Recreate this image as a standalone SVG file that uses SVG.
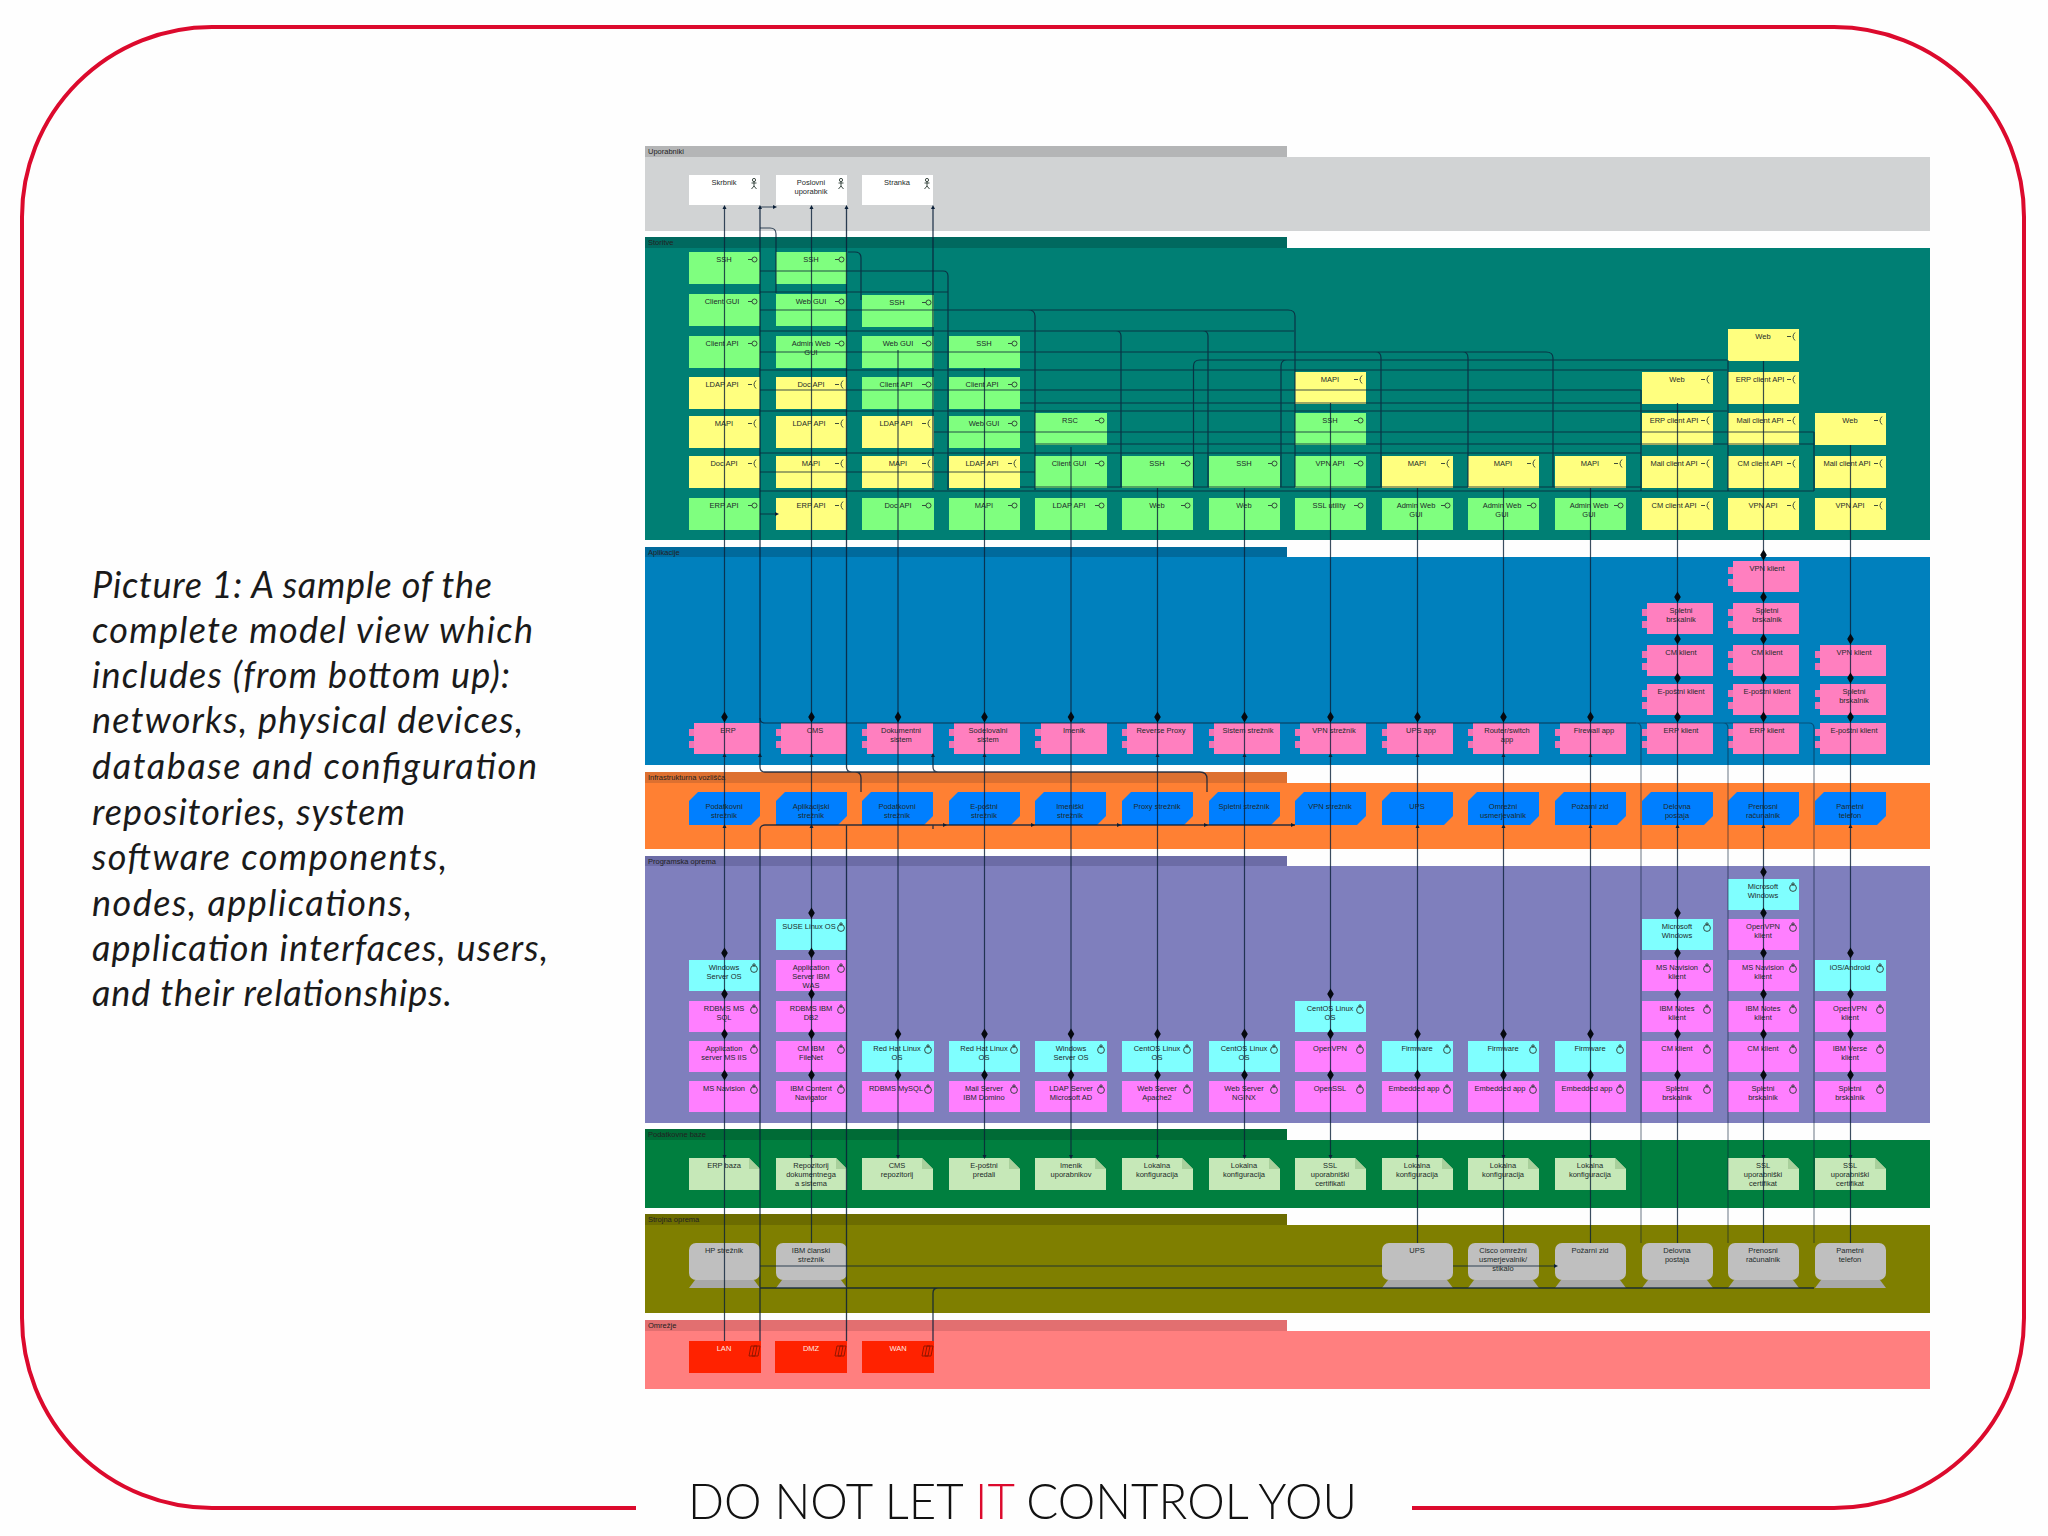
<svg xmlns="http://www.w3.org/2000/svg" width="2048" height="1536" viewBox="0 0 2048 1536">
<style>
text{font-family:"Liberation Sans",Arial,sans-serif}
.t{font-size:7.5px;fill:#1d2a2a;text-anchor:middle}
.h{font-size:7.5px;fill:#222}
.w{font-size:7.5px;fill:#ffe9e0;text-anchor:middle}
.g{fill:#7fff7f}.y{fill:#ffff7f}.p{fill:#ff7fbf}.m{fill:#ff7fff}.c{fill:#7fffff}
.cap{font-family:Lato,"Open Sans",sans-serif;font-size:36px;font-style:italic;font-weight:400;fill:#1a1a1a}
.ln{fill:none;stroke:#0b2038;stroke-width:1.2;stroke-opacity:.8}
.ln2{fill:none;stroke:#0b2038;stroke-width:1.3;stroke-opacity:.85}
.ln3{fill:none;stroke:#0b2038;stroke-width:1.2;stroke-opacity:.5}
.ic{fill:none;stroke:#2b3a33;stroke-width:.9}
</style>
<defs>
<g id="lol" class="ic"><path d="M-12 7.5H-8"/><circle cx="-5.5" cy="7.5" r="2.5"/></g>
<g id="req" class="ic"><path d="M-12 7.5H-8M-4 3.5Q-8 7.5-4 11.5"/></g>
<g id="sw" class="ic"><circle cx="-6" cy="9" r="3.4"/><circle cx="-6" cy="5" r="1.2"/></g>
<g id="act" class="ic"><circle cx="-6" cy="5" r="1.6"/><path d="M-6 6.6V11M-8.5 8H-3.500M-8.500 14L-6 11L-3.500 14"/></g>
<g id="tabs" fill="#ee74b4"><rect x="0" y="6" width="11" height="7"/><rect x="0" y="18" width="11" height="7"/></g>
<polygon id="cube" fill="#007fff" points="9,0 71,0 71,24 62,33 0,33 0,9"/>
<g id="art"><polygon fill="#c6e8b8" points="0,0 60,0 71,11 71,32 0,32"/><polygon fill="#a9d09c" points="60,0 60,11 71,11"/></g>
<g id="dev"><rect width="71" height="37" rx="7" fill="#bfbfbf"/><polygon fill="#a8a8a8" points="6,37 65,37 71,45 0,45"/></g>
<g id="neticon" fill="none" stroke="#8a1500" stroke-width=".9"><path d="M-10 5H-4L-6 15H-12ZM-7 5H-1L-3 15H-9Z"/></g>
<polygon id="dia" fill="#05090f" points="0,-5.500 3.300,0 0,5.500 -3.300,0"/>
<polygon id="ua" fill="#0b2038" points="0,-3 2,1 -2,1"/>
<polygon id="da" fill="#0b2038" points="0,2 2,-2 -2,-2"/>
<polygon id="ra" fill="#0b2038" points="3,0 -1,-2 -1,2"/>
</defs>
<rect width="2048" height="1536" fill="#fefefe"/>
<path id="frame" d="M636 1508H212A190 190 0 0 1 22 1318V217A190 190 0 0 1 212 27H1834A190 190 0 0 1 2024 217V1318A190 190 0 0 1 1834 1508H1412" fill="none" stroke="#dc0a2d" stroke-width="4"/>
<text id="slogan" x="688" y="1519" font-size="49" font-weight="300" textLength="669" lengthAdjust="spacingAndGlyphs" style="font-family:Lato,'Open Sans',sans-serif" fill="#111">DO NOT LET <tspan fill="#dc0a2d">IT</tspan> CONTROL YOU</text>
<g id="caption">
<text class="cap" x="92" y="598" textLength="400">Picture 1: A sample of the</text>
<text class="cap" x="92" y="643" textLength="441">complete model view which</text>
<text class="cap" x="92" y="688" textLength="418">includes (from bottom up):</text>
<text class="cap" x="92" y="733" textLength="431">networks, physical devices,</text>
<text class="cap" x="92" y="779" textLength="445">database and configuration</text>
<text class="cap" x="92" y="825" textLength="313">repositories, system</text>
<text class="cap" x="92" y="870" textLength="355">software components,</text>
<text class="cap" x="92" y="916" textLength="320">nodes, applications,</text>
<text class="cap" x="92" y="961" textLength="456">application interfaces, users,</text>
<text class="cap" x="92" y="1006" textLength="360">and their relationships.</text>
</g>
<g id="layers">
<g id="layer-users"><rect x="645" y="157" width="1285" height="74" fill="#d1d3d4"/><rect x="645" y="146" width="642" height="11" fill="#b4b5b6"/><text class="h" x="648" y="154">Uporabniki</text></g>
<g id="layer-services"><rect x="645" y="248" width="1285" height="292" fill="#007f74"/><rect x="645" y="237" width="642" height="11" fill="#00695f"/><text class="h" x="648" y="245">Storitve</text></g>
<g id="layer-apps"><rect x="645" y="557" width="1285" height="208" fill="#0080bd"/><rect x="645" y="547" width="642" height="10" fill="#006a9c"/><text class="h" x="648" y="555">Aplikacije</text></g>
<g id="layer-nodes"><rect x="645" y="783" width="1285" height="66" fill="#ff8033"/><rect x="645" y="772" width="642" height="11" fill="#dd7030"/><text class="h" x="648" y="780">Infrastrukturna vozlišča</text></g>
<g id="layer-software"><rect x="645" y="866" width="1285" height="257" fill="#7f7fbd"/><rect x="645" y="856" width="642" height="10" fill="#6c6ca6"/><text class="h" x="648" y="864">Programska oprema</text></g>
<g id="layer-data"><rect x="645" y="1140" width="1285" height="68" fill="#007f3f"/><rect x="645" y="1129" width="642" height="11" fill="#006b36"/><text class="h" x="648" y="1137">Podatkovne baze</text></g>
<g id="layer-hardware"><rect x="645" y="1225" width="1285" height="88" fill="#7f7f00"/><rect x="645" y="1214" width="642" height="11" fill="#6c6c00"/><text class="h" x="648" y="1222">Strojna oprema</text></g>
<g id="layer-network"><rect x="645" y="1331" width="1285" height="58" fill="#ff7f7f"/><rect x="645" y="1320" width="642" height="11" fill="#e26f70"/><text class="h" x="648" y="1328">Omrežje</text></g>
</g>
<g id="actors">
<g id="a1"><rect x="689" y="175" width="71" height="30" fill="#fff"/><use href="#act" x="760" y="175"/><text class="t" x="724" y="185">Skrbnik</text></g>
<g id="a2"><rect x="776" y="175" width="71" height="30" fill="#fff"/><use href="#act" x="847" y="175"/><text class="t" x="811" y="185">Poslovni<tspan x="811" dy="9">uporabnik</tspan></text></g>
<g id="a3"><rect x="862" y="175" width="71" height="30" fill="#fff"/><use href="#act" x="933" y="175"/><text class="t" x="897" y="185">Stranka</text></g>
</g>
<g id="services">
<g id="s1a"><rect class="g" x="689" y="252" width="71" height="32"/><use href="#lol" x="760" y="252"/><text class="t" x="724" y="262">SSH</text></g>
<g id="s1b"><rect class="g" x="689" y="294" width="71" height="32"/><use href="#lol" x="760" y="294"/><text class="t" x="722" y="304">Client GUI</text></g>
<g id="s1c"><rect class="g" x="689" y="336" width="71" height="32"/><use href="#lol" x="760" y="336"/><text class="t" x="722" y="346">Client API</text></g>
<g id="s1d"><rect class="y" x="689" y="377" width="71" height="32"/><use href="#req" x="760" y="377"/><text class="t" x="722" y="387">LDAP API</text></g>
<g id="s1e"><rect class="y" x="689" y="416" width="71" height="32"/><use href="#req" x="760" y="416"/><text class="t" x="724" y="426">MAPI</text></g>
<g id="s1f"><rect class="y" x="689" y="456" width="71" height="32"/><use href="#req" x="760" y="456"/><text class="t" x="724" y="466">Doc API</text></g>
<g id="s1g"><rect class="g" x="689" y="498" width="71" height="32"/><use href="#lol" x="760" y="498"/><text class="t" x="724" y="508">ERP API</text></g>
<g id="s2a"><rect class="g" x="776" y="252" width="71" height="32"/><use href="#lol" x="847" y="252"/><text class="t" x="811" y="262">SSH</text></g>
<g id="s2b"><rect class="g" x="776" y="294" width="71" height="32"/><use href="#lol" x="847" y="294"/><text class="t" x="811" y="304">Web GUI</text></g>
<g id="s2c"><rect class="g" x="776" y="336" width="71" height="32"/><use href="#lol" x="847" y="336"/><text class="t" x="811" y="346">Admin Web<tspan x="811" dy="9">GUI</tspan></text></g>
<g id="s2d"><rect class="y" x="776" y="377" width="71" height="32"/><use href="#req" x="847" y="377"/><text class="t" x="811" y="387">Doc API</text></g>
<g id="s2e"><rect class="y" x="776" y="416" width="71" height="32"/><use href="#req" x="847" y="416"/><text class="t" x="809" y="426">LDAP API</text></g>
<g id="s2f"><rect class="y" x="776" y="456" width="71" height="32"/><use href="#req" x="847" y="456"/><text class="t" x="811" y="466">MAPI</text></g>
<g id="s2g"><rect class="y" x="776" y="498" width="71" height="32"/><use href="#req" x="847" y="498"/><text class="t" x="811" y="508">ERP API</text></g>
<g id="s3a"><rect class="g" x="862" y="295" width="72" height="32"/><use href="#lol" x="934" y="295"/><text class="t" x="897" y="305">SSH</text></g>
<g id="s3b"><rect class="g" x="862" y="336" width="72" height="32"/><use href="#lol" x="934" y="336"/><text class="t" x="898" y="346">Web GUI</text></g>
<g id="s3c"><rect class="g" x="862" y="377" width="72" height="32"/><use href="#lol" x="934" y="377"/><text class="t" x="896" y="387">Client API</text></g>
<g id="s3d"><rect class="y" x="862" y="416" width="72" height="32"/><use href="#req" x="934" y="416"/><text class="t" x="896" y="426">LDAP API</text></g>
<g id="s3e"><rect class="y" x="862" y="456" width="72" height="32"/><use href="#req" x="934" y="456"/><text class="t" x="898" y="466">MAPI</text></g>
<g id="s3f"><rect class="g" x="862" y="498" width="72" height="32"/><use href="#lol" x="934" y="498"/><text class="t" x="898" y="508">Doc API</text></g>
<g id="s4a"><rect class="g" x="949" y="336" width="71" height="32"/><use href="#lol" x="1020" y="336"/><text class="t" x="984" y="346">SSH</text></g>
<g id="s4b"><rect class="g" x="949" y="377" width="71" height="32"/><use href="#lol" x="1020" y="377"/><text class="t" x="982" y="387">Client API</text></g>
<g id="s4c"><rect class="g" x="949" y="416" width="71" height="32"/><use href="#lol" x="1020" y="416"/><text class="t" x="984" y="426">Web GUI</text></g>
<g id="s4d"><rect class="y" x="949" y="456" width="71" height="32"/><use href="#req" x="1020" y="456"/><text class="t" x="982" y="466">LDAP API</text></g>
<g id="s4e"><rect class="g" x="949" y="498" width="71" height="32"/><use href="#lol" x="1020" y="498"/><text class="t" x="984" y="508">MAPI</text></g>
<g id="s5a"><rect class="g" x="1035" y="413" width="72" height="32"/><use href="#lol" x="1107" y="413"/><text class="t" x="1070" y="423">RSC</text></g>
<g id="s5b"><rect class="g" x="1035" y="456" width="72" height="32"/><use href="#lol" x="1107" y="456"/><text class="t" x="1069" y="466">Client GUI</text></g>
<g id="s5c"><rect class="g" x="1035" y="498" width="72" height="32"/><use href="#lol" x="1107" y="498"/><text class="t" x="1069" y="508">LDAP API</text></g>
<g id="s6a"><rect class="g" x="1122" y="456" width="71" height="32"/><use href="#lol" x="1193" y="456"/><text class="t" x="1157" y="466">SSH</text></g>
<g id="s6b"><rect class="g" x="1122" y="498" width="71" height="32"/><use href="#lol" x="1193" y="498"/><text class="t" x="1157" y="508">Web</text></g>
<g id="s7a"><rect class="g" x="1209" y="456" width="71" height="32"/><use href="#lol" x="1280" y="456"/><text class="t" x="1244" y="466">SSH</text></g>
<g id="s7b"><rect class="g" x="1209" y="498" width="71" height="32"/><use href="#lol" x="1280" y="498"/><text class="t" x="1244" y="508">Web</text></g>
<g id="s8a"><rect class="y" x="1295" y="372" width="71" height="32"/><use href="#req" x="1366" y="372"/><text class="t" x="1330" y="382">MAPI</text></g>
<g id="s8b"><rect class="g" x="1295" y="413" width="71" height="32"/><use href="#lol" x="1366" y="413"/><text class="t" x="1330" y="423">SSH</text></g>
<g id="s8c"><rect class="g" x="1295" y="456" width="71" height="32"/><use href="#lol" x="1366" y="456"/><text class="t" x="1330" y="466">VPN API</text></g>
<g id="s8d"><rect class="g" x="1295" y="498" width="71" height="32"/><use href="#lol" x="1366" y="498"/><text class="t" x="1329" y="508">SSL utility</text></g>
<g id="s9a"><rect class="y" x="1382" y="456" width="71" height="32"/><use href="#req" x="1453" y="456"/><text class="t" x="1417" y="466">MAPI</text></g>
<g id="s9b"><rect class="g" x="1382" y="498" width="71" height="32"/><use href="#lol" x="1453" y="498"/><text class="t" x="1416" y="508">Admin Web<tspan x="1416" dy="9">GUI</tspan></text></g>
<g id="s10a"><rect class="y" x="1468" y="456" width="71" height="32"/><use href="#req" x="1539" y="456"/><text class="t" x="1503" y="466">MAPI</text></g>
<g id="s10b"><rect class="g" x="1468" y="498" width="71" height="32"/><use href="#lol" x="1539" y="498"/><text class="t" x="1502" y="508">Admin Web<tspan x="1502" dy="9">GUI</tspan></text></g>
<g id="s11a"><rect class="y" x="1555" y="456" width="71" height="32"/><use href="#req" x="1626" y="456"/><text class="t" x="1590" y="466">MAPI</text></g>
<g id="s11b"><rect class="g" x="1555" y="498" width="71" height="32"/><use href="#lol" x="1626" y="498"/><text class="t" x="1589" y="508">Admin Web<tspan x="1589" dy="9">GUI</tspan></text></g>
<g id="s12a"><rect class="y" x="1642" y="372" width="71" height="32"/><use href="#req" x="1713" y="372"/><text class="t" x="1677" y="382">Web</text></g>
<g id="s12b"><rect class="y" x="1642" y="413" width="71" height="32"/><use href="#req" x="1713" y="413"/><text class="t" x="1674" y="423">ERP client API</text></g>
<g id="s12c"><rect class="y" x="1642" y="456" width="71" height="32"/><use href="#req" x="1713" y="456"/><text class="t" x="1674" y="466">Mail client API</text></g>
<g id="s12d"><rect class="y" x="1642" y="498" width="71" height="32"/><use href="#req" x="1713" y="498"/><text class="t" x="1674" y="508">CM client API</text></g>
<g id="s13a"><rect class="y" x="1728" y="329" width="71" height="32"/><use href="#req" x="1799" y="329"/><text class="t" x="1763" y="339">Web</text></g>
<g id="s13b"><rect class="y" x="1728" y="372" width="71" height="32"/><use href="#req" x="1799" y="372"/><text class="t" x="1760" y="382">ERP client API</text></g>
<g id="s13c"><rect class="y" x="1728" y="413" width="71" height="32"/><use href="#req" x="1799" y="413"/><text class="t" x="1760" y="423">Mail client API</text></g>
<g id="s13d"><rect class="y" x="1728" y="456" width="71" height="32"/><use href="#req" x="1799" y="456"/><text class="t" x="1760" y="466">CM client API</text></g>
<g id="s13e"><rect class="y" x="1728" y="498" width="71" height="32"/><use href="#req" x="1799" y="498"/><text class="t" x="1763" y="508">VPN API</text></g>
<g id="s14a"><rect class="y" x="1815" y="413" width="71" height="32"/><use href="#req" x="1886" y="413"/><text class="t" x="1850" y="423">Web</text></g>
<g id="s14b"><rect class="y" x="1815" y="456" width="71" height="32"/><use href="#req" x="1886" y="456"/><text class="t" x="1847" y="466">Mail client API</text></g>
<g id="s14c"><rect class="y" x="1815" y="498" width="71" height="32"/><use href="#req" x="1886" y="498"/><text class="t" x="1850" y="508">VPN API</text></g>
</g>
<g id="applications">
<g id="p1"><use href="#tabs" x="689" y="723"/><rect class="p" x="694" y="723" width="66" height="31"/><text class="t" x="728" y="733">ERP</text></g>
<g id="p2"><use href="#tabs" x="776" y="723"/><rect class="p" x="781" y="723" width="66" height="31"/><text class="t" x="815" y="733">CMS</text></g>
<g id="p3"><use href="#tabs" x="862" y="723"/><rect class="p" x="867" y="723" width="66" height="31"/><text class="t" x="901" y="733">Dokumentni<tspan x="901" dy="9">sistem</tspan></text></g>
<g id="p4"><use href="#tabs" x="949" y="723"/><rect class="p" x="954" y="723" width="66" height="31"/><text class="t" x="988" y="733">Sodelovalni<tspan x="988" dy="9">sistem</tspan></text></g>
<g id="p5"><use href="#tabs" x="1035" y="723"/><rect class="p" x="1041" y="723" width="66" height="31"/><text class="t" x="1074" y="733">Imenik</text></g>
<g id="p6"><use href="#tabs" x="1122" y="723"/><rect class="p" x="1127" y="723" width="66" height="31"/><text class="t" x="1161" y="733">Reverse Proxy</text></g>
<g id="p7"><use href="#tabs" x="1209" y="723"/><rect class="p" x="1214" y="723" width="66" height="31"/><text class="t" x="1248" y="733">Sistem strežnik</text></g>
<g id="p8"><use href="#tabs" x="1295" y="723"/><rect class="p" x="1300" y="723" width="66" height="31"/><text class="t" x="1334" y="733">VPN strežnik</text></g>
<g id="p9"><use href="#tabs" x="1382" y="723"/><rect class="p" x="1387" y="723" width="66" height="31"/><text class="t" x="1421" y="733">UPS app</text></g>
<g id="p10"><use href="#tabs" x="1468" y="723"/><rect class="p" x="1473" y="723" width="66" height="31"/><text class="t" x="1507" y="733">Router/switch<tspan x="1507" dy="9">app</tspan></text></g>
<g id="p11"><use href="#tabs" x="1555" y="723"/><rect class="p" x="1560" y="723" width="66" height="31"/><text class="t" x="1594" y="733">Firewall app</text></g>
<g id="p12a"><use href="#tabs" x="1642" y="723"/><rect class="p" x="1647" y="723" width="66" height="31"/><text class="t" x="1681" y="733">ERP klient</text></g>
<g id="p12b"><use href="#tabs" x="1642" y="684"/><rect class="p" x="1647" y="684" width="66" height="31"/><text class="t" x="1681" y="694">E-poštni klient</text></g>
<g id="p12c"><use href="#tabs" x="1642" y="645"/><rect class="p" x="1647" y="645" width="66" height="31"/><text class="t" x="1681" y="655">CM klient</text></g>
<g id="p12d"><use href="#tabs" x="1642" y="603"/><rect class="p" x="1647" y="603" width="66" height="31"/><text class="t" x="1681" y="613">Spletni<tspan x="1681" dy="9">brskalnik</tspan></text></g>
<g id="p13a"><use href="#tabs" x="1728" y="723"/><rect class="p" x="1733" y="723" width="66" height="31"/><text class="t" x="1767" y="733">ERP klient</text></g>
<g id="p13b"><use href="#tabs" x="1728" y="684"/><rect class="p" x="1733" y="684" width="66" height="31"/><text class="t" x="1767" y="694">E-poštni klient</text></g>
<g id="p13c"><use href="#tabs" x="1728" y="645"/><rect class="p" x="1733" y="645" width="66" height="31"/><text class="t" x="1767" y="655">CM klient</text></g>
<g id="p13d"><use href="#tabs" x="1728" y="603"/><rect class="p" x="1733" y="603" width="66" height="31"/><text class="t" x="1767" y="613">Spletni<tspan x="1767" dy="9">brskalnik</tspan></text></g>
<g id="p13e"><use href="#tabs" x="1728" y="561"/><rect class="p" x="1733" y="561" width="66" height="31"/><text class="t" x="1767" y="571">VPN klient</text></g>
<g id="p14a"><use href="#tabs" x="1815" y="723"/><rect class="p" x="1820" y="723" width="66" height="31"/><text class="t" x="1854" y="733">E-poštni klient</text></g>
<g id="p14b"><use href="#tabs" x="1815" y="684"/><rect class="p" x="1820" y="684" width="66" height="31"/><text class="t" x="1854" y="694">Spletni<tspan x="1854" dy="9">brskalnik</tspan></text></g>
<g id="p14c"><use href="#tabs" x="1815" y="645"/><rect class="p" x="1820" y="645" width="66" height="31"/><text class="t" x="1854" y="655">VPN klient</text></g>
</g>
<g id="nodes">
<g id="n1"><use href="#cube" x="689" y="792"/><text class="t" x="724" y="809">Podatkovni<tspan x="724" dy="9">strežnik</tspan></text></g>
<g id="n2"><use href="#cube" x="776" y="792"/><text class="t" x="811" y="809">Aplikacijski<tspan x="811" dy="9">strežnik</tspan></text></g>
<g id="n3"><use href="#cube" x="862" y="792"/><text class="t" x="897" y="809">Podatkovni<tspan x="897" dy="9">strežnik</tspan></text></g>
<g id="n4"><use href="#cube" x="949" y="792"/><text class="t" x="984" y="809">E-poštni<tspan x="984" dy="9">strežnik</tspan></text></g>
<g id="n5"><use href="#cube" x="1035" y="792"/><text class="t" x="1070" y="809">Imeniški<tspan x="1070" dy="9">strežnik</tspan></text></g>
<g id="n6"><use href="#cube" x="1122" y="792"/><text class="t" x="1157" y="809">Proxy strežnik</text></g>
<g id="n7"><use href="#cube" x="1209" y="792"/><text class="t" x="1244" y="809">Spletni strežnik</text></g>
<g id="n8"><use href="#cube" x="1295" y="792"/><text class="t" x="1330" y="809">VPN strežnik</text></g>
<g id="n9"><use href="#cube" x="1382" y="792"/><text class="t" x="1417" y="809">UPS</text></g>
<g id="n10"><use href="#cube" x="1468" y="792"/><text class="t" x="1503" y="809">Omrežni<tspan x="1503" dy="9">usmerjevalnik</tspan></text></g>
<g id="n11"><use href="#cube" x="1555" y="792"/><text class="t" x="1590" y="809">Požarni zid</text></g>
<g id="n12"><use href="#cube" x="1642" y="792"/><text class="t" x="1677" y="809">Delovna<tspan x="1677" dy="9">postaja</tspan></text></g>
<g id="n13"><use href="#cube" x="1728" y="792"/><text class="t" x="1763" y="809">Prenosni<tspan x="1763" dy="9">računalnik</tspan></text></g>
<g id="n14"><use href="#cube" x="1815" y="792"/><text class="t" x="1850" y="809">Pametni<tspan x="1850" dy="9">telefon</tspan></text></g>
</g>
<g id="software">
<g id="o1a"><rect class="c" x="689" y="960" width="71" height="31"/><use href="#sw" x="760" y="960"/><text class="t" x="724" y="970">Windows<tspan x="724" dy="9">Server OS</tspan></text></g>
<g id="o1b"><rect class="m" x="689" y="1001" width="71" height="31"/><use href="#sw" x="760" y="1001"/><text class="t" x="724" y="1011">RDBMS MS<tspan x="724" dy="9">SQL</tspan></text></g>
<g id="o1c"><rect class="m" x="689" y="1041" width="71" height="31"/><use href="#sw" x="760" y="1041"/><text class="t" x="724" y="1051">Application<tspan x="724" dy="9">server MS IIS</tspan></text></g>
<g id="o1d"><rect class="m" x="689" y="1081" width="71" height="31"/><use href="#sw" x="760" y="1081"/><text class="t" x="724" y="1091">MS Navision</text></g>
<g id="o2a"><rect class="c" x="776" y="919" width="71" height="31"/><use href="#sw" x="847" y="919"/><text class="t" x="809" y="929">SUSE Linux OS</text></g>
<g id="o2b"><rect class="m" x="776" y="960" width="71" height="31"/><use href="#sw" x="847" y="960"/><text class="t" x="811" y="970">Application<tspan x="811" dy="9">Server IBM</tspan><tspan x="811" dy="9">WAS</tspan></text></g>
<g id="o2c"><rect class="m" x="776" y="1001" width="71" height="31"/><use href="#sw" x="847" y="1001"/><text class="t" x="811" y="1011">RDBMS IBM<tspan x="811" dy="9">DB2</tspan></text></g>
<g id="o2d"><rect class="m" x="776" y="1041" width="71" height="31"/><use href="#sw" x="847" y="1041"/><text class="t" x="811" y="1051">CM IBM<tspan x="811" dy="9">FileNet</tspan></text></g>
<g id="o2e"><rect class="m" x="776" y="1081" width="71" height="31"/><use href="#sw" x="847" y="1081"/><text class="t" x="811" y="1091">IBM Content<tspan x="811" dy="9">Navigator</tspan></text></g>
<g id="o3a"><rect class="c" x="862" y="1041" width="72" height="31"/><use href="#sw" x="934" y="1041"/><text class="t" x="897" y="1051">Red Hat Linux<tspan x="897" dy="9">OS</tspan></text></g>
<g id="o3b"><rect class="m" x="862" y="1081" width="72" height="31"/><use href="#sw" x="934" y="1081"/><text class="t" x="896" y="1091">RDBMS MySQL</text></g>
<g id="o4a"><rect class="c" x="949" y="1041" width="71" height="31"/><use href="#sw" x="1020" y="1041"/><text class="t" x="984" y="1051">Red Hat Linux<tspan x="984" dy="9">OS</tspan></text></g>
<g id="o4b"><rect class="m" x="949" y="1081" width="71" height="31"/><use href="#sw" x="1020" y="1081"/><text class="t" x="984" y="1091">Mail Server<tspan x="984" dy="9">IBM Domino</tspan></text></g>
<g id="o5a"><rect class="c" x="1035" y="1041" width="72" height="31"/><use href="#sw" x="1107" y="1041"/><text class="t" x="1071" y="1051">Windows<tspan x="1071" dy="9">Server OS</tspan></text></g>
<g id="o5b"><rect class="m" x="1035" y="1081" width="72" height="31"/><use href="#sw" x="1107" y="1081"/><text class="t" x="1071" y="1091">LDAP Server<tspan x="1071" dy="9">Microsoft AD</tspan></text></g>
<g id="o6a"><rect class="c" x="1122" y="1041" width="71" height="31"/><use href="#sw" x="1193" y="1041"/><text class="t" x="1157" y="1051">CentOS Linux<tspan x="1157" dy="9">OS</tspan></text></g>
<g id="o6b"><rect class="m" x="1122" y="1081" width="71" height="31"/><use href="#sw" x="1193" y="1081"/><text class="t" x="1157" y="1091">Web Server<tspan x="1157" dy="9">Apache2</tspan></text></g>
<g id="o7a"><rect class="c" x="1209" y="1041" width="71" height="31"/><use href="#sw" x="1280" y="1041"/><text class="t" x="1244" y="1051">CentOS Linux<tspan x="1244" dy="9">OS</tspan></text></g>
<g id="o7b"><rect class="m" x="1209" y="1081" width="71" height="31"/><use href="#sw" x="1280" y="1081"/><text class="t" x="1244" y="1091">Web Server<tspan x="1244" dy="9">NGINX</tspan></text></g>
<g id="o8a"><rect class="c" x="1295" y="1001" width="71" height="31"/><use href="#sw" x="1366" y="1001"/><text class="t" x="1330" y="1011">CentOS Linux<tspan x="1330" dy="9">OS</tspan></text></g>
<g id="o8b"><rect class="m" x="1295" y="1041" width="71" height="31"/><use href="#sw" x="1366" y="1041"/><text class="t" x="1330" y="1051">OpenVPN</text></g>
<g id="o8c"><rect class="m" x="1295" y="1081" width="71" height="31"/><use href="#sw" x="1366" y="1081"/><text class="t" x="1330" y="1091">OpenSSL</text></g>
<g id="o9a"><rect class="c" x="1382" y="1041" width="71" height="31"/><use href="#sw" x="1453" y="1041"/><text class="t" x="1417" y="1051">Firmware</text></g>
<g id="o9b"><rect class="m" x="1382" y="1081" width="71" height="31"/><use href="#sw" x="1453" y="1081"/><text class="t" x="1414" y="1091">Embedded app</text></g>
<g id="o10a"><rect class="c" x="1468" y="1041" width="71" height="31"/><use href="#sw" x="1539" y="1041"/><text class="t" x="1503" y="1051">Firmware</text></g>
<g id="o10b"><rect class="m" x="1468" y="1081" width="71" height="31"/><use href="#sw" x="1539" y="1081"/><text class="t" x="1500" y="1091">Embedded app</text></g>
<g id="o11a"><rect class="c" x="1555" y="1041" width="71" height="31"/><use href="#sw" x="1626" y="1041"/><text class="t" x="1590" y="1051">Firmware</text></g>
<g id="o11b"><rect class="m" x="1555" y="1081" width="71" height="31"/><use href="#sw" x="1626" y="1081"/><text class="t" x="1587" y="1091">Embedded app</text></g>
<g id="o12a"><rect class="c" x="1642" y="919" width="71" height="31"/><use href="#sw" x="1713" y="919"/><text class="t" x="1677" y="929">Microsoft<tspan x="1677" dy="9">Windows</tspan></text></g>
<g id="o12b"><rect class="m" x="1642" y="960" width="71" height="31"/><use href="#sw" x="1713" y="960"/><text class="t" x="1677" y="970">MS Navision<tspan x="1677" dy="9">klient</tspan></text></g>
<g id="o12c"><rect class="m" x="1642" y="1001" width="71" height="31"/><use href="#sw" x="1713" y="1001"/><text class="t" x="1677" y="1011">IBM Notes<tspan x="1677" dy="9">klient</tspan></text></g>
<g id="o12d"><rect class="m" x="1642" y="1041" width="71" height="31"/><use href="#sw" x="1713" y="1041"/><text class="t" x="1677" y="1051">CM klient</text></g>
<g id="o12e"><rect class="m" x="1642" y="1081" width="71" height="31"/><use href="#sw" x="1713" y="1081"/><text class="t" x="1677" y="1091">Spletni<tspan x="1677" dy="9">brskalnik</tspan></text></g>
<g id="o13a"><rect class="c" x="1728" y="879" width="71" height="31"/><use href="#sw" x="1799" y="879"/><text class="t" x="1763" y="889">Microsoft<tspan x="1763" dy="9">Windows</tspan></text></g>
<g id="o13b"><rect class="m" x="1728" y="919" width="71" height="31"/><use href="#sw" x="1799" y="919"/><text class="t" x="1763" y="929">OpenVPN<tspan x="1763" dy="9">klient</tspan></text></g>
<g id="o13c"><rect class="m" x="1728" y="960" width="71" height="31"/><use href="#sw" x="1799" y="960"/><text class="t" x="1763" y="970">MS Navision<tspan x="1763" dy="9">klient</tspan></text></g>
<g id="o13d"><rect class="m" x="1728" y="1001" width="71" height="31"/><use href="#sw" x="1799" y="1001"/><text class="t" x="1763" y="1011">IBM Notes<tspan x="1763" dy="9">klient</tspan></text></g>
<g id="o13e"><rect class="m" x="1728" y="1041" width="71" height="31"/><use href="#sw" x="1799" y="1041"/><text class="t" x="1763" y="1051">CM klient</text></g>
<g id="o13f"><rect class="m" x="1728" y="1081" width="71" height="31"/><use href="#sw" x="1799" y="1081"/><text class="t" x="1763" y="1091">Spletni<tspan x="1763" dy="9">brskalnik</tspan></text></g>
<g id="o14a"><rect class="c" x="1815" y="960" width="71" height="31"/><use href="#sw" x="1886" y="960"/><text class="t" x="1850" y="970">iOS/Android</text></g>
<g id="o14b"><rect class="m" x="1815" y="1001" width="71" height="31"/><use href="#sw" x="1886" y="1001"/><text class="t" x="1850" y="1011">OpenVPN<tspan x="1850" dy="9">klient</tspan></text></g>
<g id="o14c"><rect class="m" x="1815" y="1041" width="71" height="31"/><use href="#sw" x="1886" y="1041"/><text class="t" x="1850" y="1051">IBM Verse<tspan x="1850" dy="9">klient</tspan></text></g>
<g id="o14d"><rect class="m" x="1815" y="1081" width="71" height="31"/><use href="#sw" x="1886" y="1081"/><text class="t" x="1850" y="1091">Spletni<tspan x="1850" dy="9">brskalnik</tspan></text></g>
</g>
<g id="data">
<g id="d1"><use href="#art" x="689" y="1158"/><text class="t" x="724" y="1168">ERP baza</text></g>
<g id="d2"><use href="#art" x="776" y="1158"/><text class="t" x="811" y="1168">Repozitorij<tspan x="811" dy="9">dokumentnega</tspan><tspan x="811" dy="9">a sistema</tspan></text></g>
<g id="d3"><use href="#art" x="862" y="1158"/><text class="t" x="897" y="1168">CMS<tspan x="897" dy="9">repozitorij</tspan></text></g>
<g id="d4"><use href="#art" x="949" y="1158"/><text class="t" x="984" y="1168">E-poštni<tspan x="984" dy="9">predali</tspan></text></g>
<g id="d5"><use href="#art" x="1035" y="1158"/><text class="t" x="1071" y="1168">Imenik<tspan x="1071" dy="9">uporabnikov</tspan></text></g>
<g id="d6"><use href="#art" x="1122" y="1158"/><text class="t" x="1157" y="1168">Lokalna<tspan x="1157" dy="9">konfiguracija</tspan></text></g>
<g id="d7"><use href="#art" x="1209" y="1158"/><text class="t" x="1244" y="1168">Lokalna<tspan x="1244" dy="9">konfiguracija</tspan></text></g>
<g id="d8"><use href="#art" x="1295" y="1158"/><text class="t" x="1330" y="1168">SSL<tspan x="1330" dy="9">uporabniški</tspan><tspan x="1330" dy="9">certifikati</tspan></text></g>
<g id="d9"><use href="#art" x="1382" y="1158"/><text class="t" x="1417" y="1168">Lokalna<tspan x="1417" dy="9">konfiguracija</tspan></text></g>
<g id="d10"><use href="#art" x="1468" y="1158"/><text class="t" x="1503" y="1168">Lokalna<tspan x="1503" dy="9">konfiguracija</tspan></text></g>
<g id="d11"><use href="#art" x="1555" y="1158"/><text class="t" x="1590" y="1168">Lokalna<tspan x="1590" dy="9">konfiguracija</tspan></text></g>
<g id="d13"><use href="#art" x="1728" y="1158"/><text class="t" x="1763" y="1168">SSL<tspan x="1763" dy="9">uporabniški</tspan><tspan x="1763" dy="9">certifikat</tspan></text></g>
<g id="d14"><use href="#art" x="1815" y="1158"/><text class="t" x="1850" y="1168">SSL<tspan x="1850" dy="9">uporabniški</tspan><tspan x="1850" dy="9">certifikat</tspan></text></g>
</g>
<g id="devices">
<g id="h1"><use href="#dev" x="689" y="1243"/><text class="t" x="724" y="1253">HP strežnik</text></g>
<g id="h2"><use href="#dev" x="776" y="1243"/><text class="t" x="811" y="1253">IBM članski<tspan x="811" dy="9">strežnik</tspan></text></g>
<g id="h9"><use href="#dev" x="1382" y="1243"/><text class="t" x="1417" y="1253">UPS</text></g>
<g id="h10"><use href="#dev" x="1468" y="1243"/><text class="t" x="1503" y="1253">Cisco omrežni<tspan x="1503" dy="9">usmerjevalnik/</tspan><tspan x="1503" dy="9">stikalo</tspan></text></g>
<g id="h11"><use href="#dev" x="1555" y="1243"/><text class="t" x="1590" y="1253">Požarni zid</text></g>
<g id="h12"><use href="#dev" x="1642" y="1243"/><text class="t" x="1677" y="1253">Delovna<tspan x="1677" dy="9">postaja</tspan></text></g>
<g id="h13"><use href="#dev" x="1728" y="1243"/><text class="t" x="1763" y="1253">Prenosni<tspan x="1763" dy="9">računalnik</tspan></text></g>
<g id="h14"><use href="#dev" x="1815" y="1243"/><text class="t" x="1850" y="1253">Pametni<tspan x="1850" dy="9">telefon</tspan></text></g>
</g>
<g id="networks">
<g id="w1"><rect x="689" y="1341" width="72" height="32" fill="#ff2200"/><use href="#neticon" x="761" y="1341"/><text class="w" x="724" y="1351">LAN</text></g>
<g id="w2"><rect x="775" y="1341" width="72" height="32" fill="#ff2200"/><use href="#neticon" x="847" y="1341"/><text class="w" x="811" y="1351">DMZ</text></g>
<g id="w3"><rect x="862" y="1341" width="72" height="32" fill="#ff2200"/><use href="#neticon" x="934" y="1341"/><text class="w" x="898" y="1351">WAN</text></g>
</g>
<g id="connectors">
<path class="ln" d="M724.500 207V1341M811.500 207V1243M898 350V1158M984.500 368V1158M1071 447V1158M1157.500 488V1158M1244.500 488V1158M1330.500 403V1158M1417.500 488V1243M1503.500 488V1243M1590.500 488V1243M1677.500 403V1243M1763.500 361V1243M1850.500 445V1243"/>
<path class="ln2" d="M760 207V767Q760 772 765 772H1200Q1207 772 1207 779V792M846.500 207V767Q846.500 772 852 772H855Q861 772 861 778V792M933 207V490M933 754V767Q933 772 938 772M760 1341V830Q760 825 765 825H1295M846.500 1341V825M933 825V829M760 1288H1814M933 1341V1293Q933 1288 938 1288"/>
<path class="ln" d="M760 1266H1382M1453 1266H1555M760 718Q760 723 765 723H1636"/>
<path class="ln3" d="M1636 723H1809Q1814 723 1814 728V1243M1636 723Q1641 723 1641 728V1243M1723 723Q1728 723 1728 728V1243"/>
<path class="ln" d="M760 271H943Q948 271 948 276V490M760 292H948M760 310H1028Q1035 310 1035 316V490M1028 310H1288Q1295 310 1295 316V487M760 331H1294M1116 331Q1121 331 1121 336V487M1203 331Q1208 331 1208 336V487M760 352H1546Q1553 352 1553 358V487M1376 352Q1381 352 1381 358V487M1463 352Q1468 352 1468 358V487M1727 360H1200Q1193.500 360 1193.500 366V487M1287 360Q1281 360 1281 366V487M760 370H1727M760 390H1641M1020 403H1641M760 411H1727M934 432H1814M1035 444H1814M760 453H1641M760 472H1035M1020 487H1641M760 491H1814M760 514H776M760 207H774M760 228H770Q776 228 776 234V293M848 252H855Q861 252 861 258V300M1641 390V491M1728 360V491M1814 432V491"/>
<g id="diamonds">
<use href="#dia" x="724.500" y="717"/><use href="#dia" x="811.500" y="717"/><use href="#dia" x="898" y="717"/><use href="#dia" x="984.500" y="717"/><use href="#dia" x="1071" y="717"/><use href="#dia" x="1157.500" y="717"/><use href="#dia" x="1244.500" y="717"/><use href="#dia" x="1330.500" y="717"/><use href="#dia" x="1417.500" y="717"/><use href="#dia" x="1503.500" y="717"/><use href="#dia" x="1590.500" y="717"/><use href="#dia" x="1677.500" y="717"/><use href="#dia" x="1763.500" y="717"/><use href="#dia" x="1850.500" y="717"/>
<use href="#dia" x="1677.500" y="678"/><use href="#dia" x="1677.500" y="639"/><use href="#dia" x="1677.500" y="597"/>
<use href="#dia" x="1763.500" y="678"/><use href="#dia" x="1763.500" y="639"/><use href="#dia" x="1763.500" y="597"/><use href="#dia" x="1763.500" y="555"/>
<use href="#dia" x="1850.500" y="678"/><use href="#dia" x="1850.500" y="639"/>
<use href="#dia" x="724.500" y="1075"/><use href="#dia" x="811.500" y="1075"/><use href="#dia" x="898" y="1075"/><use href="#dia" x="984.500" y="1075"/><use href="#dia" x="1071" y="1075"/><use href="#dia" x="1157.500" y="1075"/><use href="#dia" x="1244.500" y="1075"/><use href="#dia" x="1330.500" y="1075"/><use href="#dia" x="1417.500" y="1075"/><use href="#dia" x="1503.500" y="1075"/><use href="#dia" x="1590.500" y="1075"/><use href="#dia" x="1677.500" y="1075"/><use href="#dia" x="1763.500" y="1075"/><use href="#dia" x="1850.500" y="1075"/>
<use href="#dia" x="724.500" y="1034"/><use href="#dia" x="811.500" y="1034"/><use href="#dia" x="898" y="1034"/><use href="#dia" x="984.500" y="1034"/><use href="#dia" x="1071" y="1034"/><use href="#dia" x="1157.500" y="1034"/><use href="#dia" x="1244.500" y="1034"/><use href="#dia" x="1330.500" y="1034"/><use href="#dia" x="1417.500" y="1034"/><use href="#dia" x="1503.500" y="1034"/><use href="#dia" x="1590.500" y="1034"/><use href="#dia" x="1677.500" y="1034"/><use href="#dia" x="1763.500" y="1034"/><use href="#dia" x="1850.500" y="1034"/>
<use href="#dia" x="724.500" y="994"/><use href="#dia" x="811.500" y="994"/><use href="#dia" x="1330.500" y="994"/><use href="#dia" x="1677.500" y="994"/><use href="#dia" x="1763.500" y="994"/><use href="#dia" x="1850.500" y="994"/>
<use href="#dia" x="724.500" y="953"/><use href="#dia" x="811.500" y="953"/><use href="#dia" x="1677.500" y="953"/><use href="#dia" x="1763.500" y="953"/><use href="#dia" x="1850.500" y="953"/>
<use href="#dia" x="811.500" y="913"/><use href="#dia" x="1677.500" y="913"/><use href="#dia" x="1763.500" y="913"/><use href="#dia" x="1763.500" y="872"/>
</g>
<g id="arrowheads">
<use href="#ua" x="724.500" y="208"/><use href="#ua" x="760" y="208"/><use href="#ua" x="811.500" y="208"/><use href="#ua" x="846.500" y="208"/><use href="#ua" x="933" y="208"/>
<use href="#ua" x="724.500" y="756"/><use href="#ua" x="811.500" y="756"/><use href="#ua" x="760" y="756"/><use href="#ua" x="933" y="756"/><use href="#ua" x="984.500" y="756"/><use href="#ua" x="1157.500" y="756"/><use href="#ua" x="1244.500" y="756"/><use href="#ua" x="1330.500" y="756"/><use href="#ua" x="1417.500" y="756"/><use href="#ua" x="1503.500" y="756"/><use href="#ua" x="1590.500" y="756"/>
<use href="#ua" x="724.500" y="827"/><use href="#ua" x="811.500" y="827"/><use href="#ua" x="1417.500" y="827"/><use href="#ua" x="1503.500" y="827"/><use href="#ua" x="1590.500" y="827"/><use href="#ua" x="1677.500" y="827"/><use href="#ua" x="1763.500" y="827"/><use href="#ua" x="1850.500" y="827"/>
<use href="#ra" x="944" y="825"/><use href="#ra" x="1032" y="825"/><use href="#ra" x="1118" y="825"/><use href="#ra" x="1205" y="825"/><use href="#ra" x="1292" y="825"/><use href="#ra" x="774" y="207"/><use href="#ra" x="776" y="514"/><use href="#ra" x="1555" y="1266"/>
<use href="#da" x="724.500" y="1157"/><use href="#da" x="811.500" y="1157"/><use href="#da" x="898" y="1157"/><use href="#da" x="984.500" y="1157"/><use href="#da" x="1071" y="1157"/><use href="#da" x="1157.500" y="1157"/><use href="#da" x="1244.500" y="1157"/><use href="#da" x="1330.500" y="1157"/><use href="#da" x="1417.500" y="1157"/><use href="#da" x="1503.500" y="1157"/><use href="#da" x="1590.500" y="1157"/><use href="#da" x="1763.500" y="1157"/><use href="#da" x="1850.500" y="1157"/>
</g>
</g>
</svg>
